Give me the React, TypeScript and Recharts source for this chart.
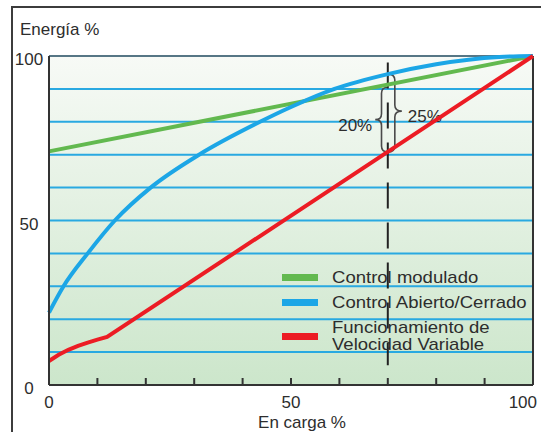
import { ComposedChart, Line, XAxis, YAxis, CartesianGrid, ReferenceLine, ReferenceArea, Legend } from 'recharts'

const FONT = '"Liberation Sans", Arial, sans-serif'
const INK = '#2d2d2d'

// curvas (carga %, energía %)
const cargaModulado = [0, 100]
const energiaModulado = [71, 100]

const cargaAbierto = [0, 3, 8, 13.6, 21, 31, 43.6, 50, 59, 70, 80, 93, 100]
const energiaAbierto = [22, 30, 40, 50, 60, 70, 80, 84.5, 90, 94.5, 97.5, 99.7, 100]

const cargaVariable = [0, 2, 4, 6, 8, 10, 12, 100]
const energiaVariable = [7.3, 9.2, 10.7, 11.9, 12.9, 13.8, 14.6, 100]

const ticks = [0, 10, 20, 30, 40, 50, 60, 70, 80, 90, 100]
const tickLabels = [0, 50, 100]

// comparación a 70% de carga
const cargaComparada = 70
const llaveDesde = [70.8, 70.8]
const llaveHasta = [90.5, 94.5]
const llaveTextos = ['20%', '25%']

const zip = (xs: number[], ys: number[]) => xs.map((carga, i) => ({ carga, energia: ys[i] }))

const series = [
  { name: 'Control modulado', color: '#62b94f', data: zip(cargaModulado, energiaModulado), type: 'linear' },
  { name: 'Control Abierto/Cerrado', color: '#1ca6e6', data: zip(cargaAbierto, energiaAbierto), type: 'monotone' },
  { name: 'Funcionamiento de\nVelocidad Variable', color: '#ec1c24', data: zip(cargaVariable, energiaVariable), type: 'linear' },
]

const XTick = ({ x, y, payload }: any) => {
  if (!tickLabels.includes(payload.value)) return <g />
  const last = payload.value === 100
  return (
    <text x={last ? x + 8 : x} y={y + 23} textAnchor={last ? 'end' : 'middle'} fontFamily={FONT} fontSize={17} fill={INK}>
      {payload.value}
    </text>
  )
}

const YTick = ({ x, y, payload }: any) => {
  if (!tickLabels.includes(payload.value)) return <g />
  return (
    <text x={x - 12} y={y + 9} textAnchor="middle" fontFamily={FONT} fontSize={17} fill={INK}>
      {payload.value}
    </text>
  )
}

function bracePath(xs: number, xt: number, top: number, bot: number, tipY: number) {
  const xm = (xs + xt) / 2
  const r = 6
  return `M${xs},${top} Q${xm},${top} ${xm},${top + r} L${xm},${tipY - r} Q${xm},${tipY} ${xt},${tipY} ` +
    `Q${xm},${tipY} ${xm},${tipY + r} L${xm},${bot - r} Q${xm},${bot} ${xs},${bot}`
}

const Llave = (side: 'left' | 'right', text: string) => (props: any) => {
  const { x, y, width, height } = props
  const tipY = side === 'left' ? y + height / 2 : y + height / 2 - 2
  const xs = side === 'left' ? x + width : x
  const xt = side === 'left' ? x : x + width
  return (
    <g>
      <path d={bracePath(xs, xt, y, y + height, tipY)} fill="none" stroke="#4a4a4a" strokeWidth={1.6} />
      <text x={side === 'left' ? xt - 3 : xt + 6} y={tipY + 11} textAnchor={side === 'left' ? 'end' : 'start'}
        fontFamily={FONT} fontSize={17} fill={INK}>{text}</text>
    </g>
  )
}

const Leyenda = () => (
  <div style={{ fontFamily: FONT, fontSize: 17, color: INK }}>
    {series.map((s) => (
      <div key={s.name} style={{ display: 'flex', alignItems: 'center', marginBottom: 8 }}>
        <span style={{ width: 36, height: 7, background: s.color, marginRight: 14, flex: 'none' }} />
        <span style={{ lineHeight: '17px', whiteSpace: 'pre', transform: 'scaleX(1.09)', transformOrigin: 'left center' }}>{s.name}</span>
      </div>
    ))}
  </div>
)

export default function App() {
  return (
    <div style={{ position: 'absolute', left: 0, top: 0, width: 541, height: 432, overflow: 'hidden', background: '#fff' }}>
      <div style={{ position: 'absolute', left: 11, top: 6, width: 700, height: 700, border: '2px solid #3c3c3c' }} />
      <div style={{ position: 'absolute', left: 0, top: 0 }}>
        <ComposedChart width={541} height={432} margin={{ top: 56, right: 8, left: 0, bottom: 0 }}>
          <defs>
            <linearGradient id="fondo" x1="0" y1="0" x2="0" y2="1">
              <stop offset="0%" stopColor="#f7faf6" />
              <stop offset="100%" stopColor="#cce6cb" />
            </linearGradient>
          </defs>
          <CartesianGrid vertical={false} stroke="#29a9e1" strokeWidth={2} fill="url(#fondo)" fillOpacity={1} />
          <XAxis dataKey="carga" type="number" domain={[0, 100]} ticks={ticks} allowDuplicatedCategory={false}
            height={47} tickSize={-7} tickMargin={7} tick={<XTick />}
            axisLine={{ stroke: '#333', strokeWidth: 2 }} tickLine={{ stroke: '#333', strokeWidth: 2 }}
            label={{ value: 'En carga %', position: 'insideBottom', offset: 4, dx: 11, fill: INK, fontSize: 17, fontFamily: FONT }} />
          <YAxis type="number" domain={[0, 100]} ticks={ticks} width={49} tickLine={false} tick={<YTick />}
            axisLine={{ stroke: '#333', strokeWidth: 2 }}
            label={{ content: () => <text x={20} y={35} fontFamily={FONT} fontSize={17} fill={INK}>Energía %</text> }} />
          <ReferenceLine y={100} stroke="#666" strokeWidth={1.5} />
          <ReferenceLine x={100} stroke="#333" strokeWidth={2} />
          <ReferenceLine segment={[{ x: cargaComparada, y: 98 }, { x: cargaComparada, y: 6 }]} stroke="#222" strokeWidth={2} strokeDasharray="26 14" />
          <Legend layout="vertical" align="center" verticalAlign="middle" content={<Leyenda />}
            wrapperStyle={{ left: 282, top: 269, width: 260 }} />
          {series.map((s) => (
            <Line key={s.name} name={s.name} data={s.data} dataKey="energia" type={s.type as any} stroke={s.color}
              strokeWidth={4} dot={false} activeDot={false} isAnimationActive={false} />
          ))}
          <ReferenceArea x1={cargaComparada - 2.6} x2={cargaComparada} y1={llaveDesde[0]} y2={llaveHasta[0]}
            shape={Llave('left', llaveTextos[0])} />
          <ReferenceArea x1={cargaComparada} x2={cargaComparada + 2.9} y1={llaveDesde[1]} y2={llaveHasta[1]}
            shape={Llave('right', llaveTextos[1])} />
        </ComposedChart>
      </div>
    </div>
  )
}
